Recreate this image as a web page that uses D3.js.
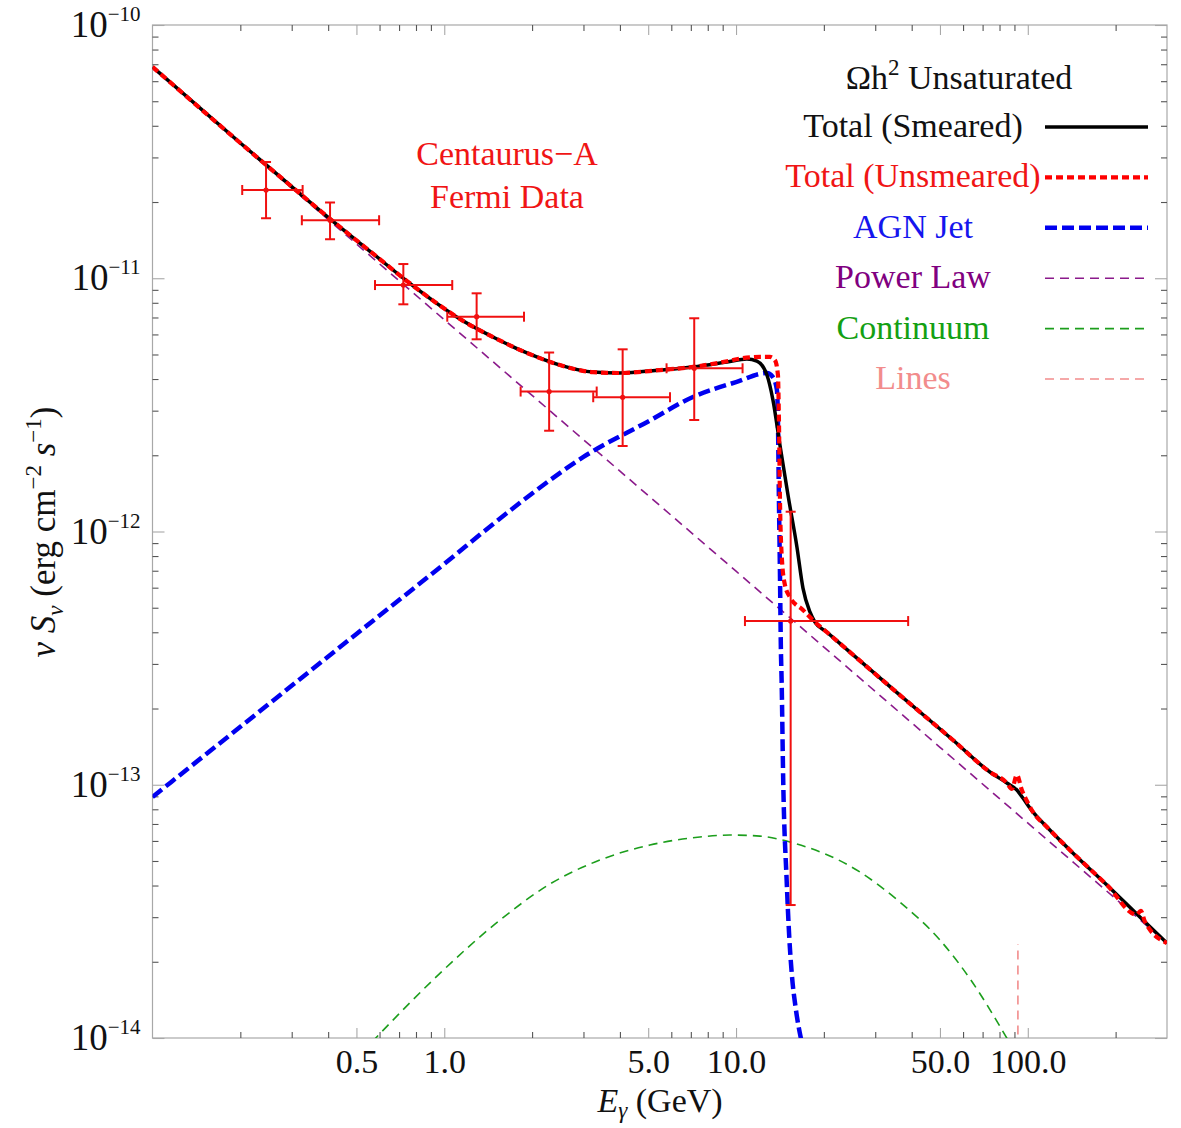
<!DOCTYPE html>
<html lang="en">
<head>
    <meta charset="UTF-8">
    <title>Centaurus-A Fermi Data</title>
    <script src="https://d3js.org/d3.v7.min.js"></script>
    <style>
        body { margin: 0; background: #fff; }
        svg text { font-family: "Liberation Serif", "Times New Roman", serif; }
    </style>
</head>
<body>
<svg id="chart" width="1181" height="1128"></svg>
<script>
    // ---- data (E in GeV, nu S_nu in erg cm^-2 s^-1) ----

    // Power law (thin purple dashed)
    const powerLawE = [0.1, 1, 10, 50, 300];
    const powerLawF = [6.76e-11, 6.86e-12, 6.97e-13, 1.406e-13, 2.37e-14];

    // Total (Smeared), black solid
    const smearedE = [0.1, 0.2, 0.3, 0.4, 0.57, 0.745, 0.967, 1.132, 1.468, 1.920, 2.492,
        3.233, 4.0, 5.486, 7.117, 9.308, 10.90, 11.79, 12.76, 13.38, 14.14, 15.07, 16.17, 16.96, 17.92,
        18.64, 20.5, 24.57, 36.45, 55.38, 74.16, 84.8, 91.76, 96.2, 104.1, 116.3, 142.7, 186.7, 242.2, 299.8];
    const smearedF = [6.83e-11, 3.42e-11, 2.30e-11, 1.74e-11, 1.25e-11, 9.75e-12, 7.80e-12,
        6.90e-12, 5.86e-12, 5.07e-12, 4.54e-12, 4.26e-12, 4.225e-12, 4.34e-12, 4.464e-12, 4.67e-12,
        4.80e-12, 4.71e-12, 4.15e-12, 3.31e-12, 2.196e-12, 1.393e-12, 8.69e-13, 5.98e-13, 4.81e-13,
        4.39e-13, 4.00e-13, 3.34e-13, 2.26e-13, 1.502e-13, 1.123e-13, 1.016e-13, 9.53e-14, 8.86e-14,
        7.81e-14, 6.81e-14, 5.38e-14, 4.02e-14, 3.004e-14, 2.372e-14];

    // Total (Unsmeared), red dashed
    const unsmearedE = [0.1, 0.2, 0.3, 0.4, 0.57, 0.745, 0.967, 1.132, 1.468, 1.920, 2.492,
        3.233, 4.0, 5.486, 7.117, 9.308, 10.56, 12.07, 13.07, 13.59, 13.92, 14.03, 14.14, 14.37, 14.71,
        15.30, 16.96, 18.64, 20.5, 24.57, 36.45, 55.38, 74.16, 84.8, 88.2, 91.76, 95.4, 99.3, 104.1,
        116.3, 142.7, 186.7, 236, 244, 252, 299.8];
    const unsmearedF = [6.83e-11, 3.42e-11, 2.30e-11, 1.74e-11, 1.25e-11, 9.75e-12, 7.80e-12,
        6.90e-12, 5.86e-12, 5.07e-12, 4.54e-12, 4.26e-12, 4.225e-12, 4.34e-12, 4.464e-12, 4.70e-12,
        4.84e-12, 4.89e-12, 4.89e-12, 4.75e-12, 4.15e-12, 2.756e-12, 1.368e-12, 7.72e-13, 6.15e-13,
        5.51e-13, 4.90e-13, 4.39e-13, 4.00e-13, 3.34e-13, 2.26e-13, 1.502e-13, 1.123e-13, 1.016e-13,
        9.62e-14, 1.093e-13, 9.53e-14, 8.63e-14, 7.81e-14, 6.81e-14, 5.38e-14, 4.02e-14, 3.07e-14,
        3.18e-14, 2.88e-14, 2.372e-14];

    // AGN Jet, blue dashed
    const jetE = [0.1, 0.2, 0.5, 1.0, 1.5, 2.0, 3.0, 5.0, 7.117, 10.0, 12.76, 13.38, 13.81, 13.92,
        14.03, 14.14, 14.25, 14.33, 14.51, 14.91, 15.22, 15.54, 16.05, 16.76];
    const jetF = [8.95e-14, 1.694e-13, 3.94e-13, 7.45e-13, 1.09e-12, 1.413e-12, 1.97e-12, 2.72e-12,
        3.397e-12, 3.89e-12, 4.225e-12, 4.07e-12, 3.62e-12, 2.756e-12, 1.332e-12, 7.05e-13, 3.40e-13,
        2.592e-13, 1.044e-13, 4.205e-14, 2.505e-14, 1.773e-14, 1.29e-14, 9.73e-15];

    // Continuum, green dashed
    const contE = [0.565, 0.9147, 1.552, 2.303, 3.418, 5.069, 7.52, 9.53, 12.07, 15.30, 26.6, 36.45, 49.96, 63.8, 85.5];
    const contF = [9.64e-15, 1.694e-14, 2.92e-14, 4.055e-14, 5.046e-14, 5.78e-14, 6.22e-14, 6.33e-14,
        6.27e-14, 5.94e-14, 4.52e-14, 3.44e-14, 2.44e-14, 1.694e-14, 9.82e-15];

    // Lines, pink dashed spike
    const linesE = [92.5, 92.5];
    const linesF = [9e-15, 2.35e-14];

    // Fermi data points with error bars
    const fermiE   = [0.245, 0.406, 0.724, 1.291, 2.288, 4.087, 7.19, 15.39];
    const fermiELo = [0.203, 0.325, 0.579, 1.024, 1.827, 3.24, 5.78, 10.73];
    const fermiEHi = [0.327, 0.598, 1.065, 1.876, 3.33, 5.94, 10.53, 38.9];
    const fermiF   = [2.23e-11, 1.694e-11, 9.40e-12, 7.05e-12, 3.57e-12, 3.39e-12, 4.41e-12, 4.43e-13];
    const fermiFLo = [1.726e-11, 1.426e-11, 7.89e-12, 5.74e-12, 2.50e-12, 2.176e-12, 2.756e-12, 3.35e-14];
    const fermiFHi = [2.88e-11, 1.99e-11, 1.138e-11, 8.72e-12, 5.09e-12, 5.24e-12, 6.95e-12, 1.197e-12];

    // Ticks
    const xLabelTicks = [0.5, 1, 5, 10, 50, 100];
    const xTickLabels = ["0.5", "1.0", "5.0", "10.0", "50.0", "100.0"];
    const xMinorTicks = [0.2, 0.3, 0.4, 0.6, 0.7, 0.8, 0.9, 2, 3, 4, 6, 7, 8, 9, 20, 30, 40, 60, 70, 80, 90, 200];
    const yDecades = [1e-14, 1e-13, 1e-12, 1e-11, 1e-10];
    const yExponents = ["\u221214", "\u221213", "\u221212", "\u221211", "\u221210"];

    // Legend
    const legendTitle = "Unsaturated";
    const legendLabels = ["Total (Smeared)", "Total (Unsmeared)", "AGN Jet", "Power Law", "Continuum", "Lines"];

    // ---- layout ----
    const margin = { top: 25, right: 14, bottom: 90, left: 152.5 };
    const width = 1181 - margin.left - margin.right;
    const height = 1128 - margin.top - margin.bottom;

    const svg = d3.select("#chart");
    const g = svg.append("g").attr("transform", `translate(${margin.left},${margin.top})`);

    const x = d3.scaleLog().domain([0.1, 300]).range([0, width]);
    const y = d3.scaleLog().domain([1e-14, 1e-10]).range([height, 0]);

    // minor y ticks 2..9 per decade
    const yMinorTicks = [];
    yDecades.slice(0, -1).forEach(d => {
        for (let m = 2; m <= 9; m++) yMinorTicks.push(m * d);
    });

    // clip to the frame
    svg.append("defs").append("clipPath").attr("id", "plotClip")
        .append("rect").attr("width", width).attr("height", height);

    // frame
    g.append("rect")
        .attr("width", width).attr("height", height)
        .attr("fill", "none").attr("stroke", "#a8a8a8").attr("stroke-width", 1.2);

    // tick marks on all four sides (pointing inward)
    function ticks(axisFn, scale, values, size, colour, transform) {
        const a = g.append("g")
            .attr("transform", transform)
            .call(axisFn(scale).tickValues(values).tickSize(-size).tickFormat(""));
        a.select(".domain").remove();
        a.selectAll(".tick line").attr("stroke", colour).attr("stroke-width", 1.1);
        return a;
    }
    ticks(d3.axisBottom, x, xMinorTicks, 6, "#555", `translate(0,${height})`);
    ticks(d3.axisBottom, x, xLabelTicks, 10, "#a8a8a8", `translate(0,${height})`);
    ticks(d3.axisTop, x, xMinorTicks, 6, "#555", "translate(0,0)");
    ticks(d3.axisTop, x, xLabelTicks, 10, "#a8a8a8", "translate(0,0)");
    ticks(d3.axisLeft, y, yMinorTicks, 6, "#555", "translate(0,0)");
    ticks(d3.axisLeft, y, yDecades, 12, "#a8a8a8", "translate(0,0)");
    ticks(d3.axisRight, y, yMinorTicks, 6, "#555", `translate(${width},0)`);
    ticks(d3.axisRight, y, yDecades, 12, "#a8a8a8", `translate(${width},0)`);

    // x tick labels
    const xLab = g.append("g")
        .attr("transform", `translate(0,${height})`)
        .call(d3.axisBottom(x).tickValues(xLabelTicks).tickSize(0).tickPadding(11)
            .tickFormat((d, i) => xTickLabels[i]));
    xLab.select(".domain").remove();
    xLab.selectAll("text")
        .attr("font-family", "Liberation Serif")
        .attr("font-size", 34)
        .attr("fill", "#111");

    // y tick labels: 10^n
    yDecades.forEach((d, i) => {
        const t = g.append("text")
            .attr("x", -12)
            .attr("y", y(d) + 12)
            .attr("text-anchor", "end")
            .attr("font-size", 37)
            .attr("fill", "#111");
        t.append("tspan").text("10");
        t.append("tspan").attr("dy", -16).attr("font-size", 21).text(yExponents[i]);
    });

    // axis titles
    const xt = svg.append("text")
        .attr("x", 660).attr("y", 1112)
        .attr("text-anchor", "middle")
        .attr("font-size", 34)
        .attr("fill", "#111");
    xt.append("tspan").attr("font-style", "italic").text("E");
    xt.append("tspan").attr("dy", 6).attr("font-size", 23).attr("font-style", "italic").text("\u03b3");
    xt.append("tspan").attr("dy", -6).text(" (GeV)");

    const yt = svg.append("text")
        .attr("transform", "translate(55,532) rotate(-90)")
        .attr("text-anchor", "middle")
        .attr("font-size", 35)
        .attr("fill", "#111");
    yt.append("tspan").attr("font-style", "italic").text("\u03bd ");
    yt.append("tspan").attr("font-style", "italic").text("S");
    yt.append("tspan").attr("dy", 8).attr("font-size", 23).attr("font-style", "italic").text("\u03bd");
    yt.append("tspan").attr("dy", -8).text(" (erg cm");
    yt.append("tspan").attr("dy", -14).attr("font-size", 23).text("\u22122");
    yt.append("tspan").attr("dy", 14).attr("font-style", "italic").text(" s");
    yt.append("tspan").attr("dy", -14).attr("font-size", 23).text("\u22121");
    yt.append("tspan").attr("dy", 14).text(")");

    // ---- curves ----
    const zip = (es, fs) => es.map((e, i) => [e, fs[i]]);
    const line = d3.line()
        .x(d => x(d[0]))
        .y(d => y(d[1]))
        .curve(d3.curveMonotoneX);
    const straight = d3.line().x(d => x(d[0])).y(d => y(d[1]));

    const plot = g.append("g").attr("clip-path", "url(#plotClip)");

    const series = [
        { data: zip(powerLawE, powerLawF), color: "#8b1a8b", width: 1.6, dash: "9,6", gen: straight },
        { data: zip(contE, contF), color: "#1c9e1c", width: 1.6, dash: "9,6", gen: line },
        { data: zip(linesE, linesF), color: "#f28c8c", width: 1.6, dash: "9,6", gen: straight },
        { data: zip(jetE, jetF), color: "#0000f0", width: 4.5, dash: "12,5", gen: line },
        { data: zip(smearedE, smearedF), color: "#000", width: 3.5, dash: null, gen: line },
        { data: zip(unsmearedE, unsmearedF), color: "#f00", width: 4.2, dash: "7,4", gen: line }
    ];

    series.forEach(s => {
        plot.append("path")
            .datum(s.data)
            .attr("d", s.gen)
            .attr("fill", "none")
            .attr("stroke", s.color)
            .attr("stroke-width", s.width)
            .attr("stroke-dasharray", s.dash)
            .attr("stroke-linejoin", "round");
    });

    // ---- Fermi data with error bars ----
    const pts = fermiE.map((e, i) => ({
        e, f: fermiF[i], elo: fermiELo[i], ehi: fermiEHi[i], flo: fermiFLo[i], fhi: fermiFHi[i]
    }));
    const cap = 5;
    const eb = plot.append("g").attr("stroke", "#f01010").attr("stroke-width", 2);
    pts.forEach(p => {
        const px = x(p.e), py = y(p.f);
        eb.append("line").attr("x1", x(p.elo)).attr("x2", x(p.ehi)).attr("y1", py).attr("y2", py);
        eb.append("line").attr("x1", x(p.elo)).attr("x2", x(p.elo)).attr("y1", py - cap).attr("y2", py + cap);
        eb.append("line").attr("x1", x(p.ehi)).attr("x2", x(p.ehi)).attr("y1", py - cap).attr("y2", py + cap);
        eb.append("line").attr("x1", px).attr("x2", px).attr("y1", y(p.flo)).attr("y2", y(p.fhi));
        eb.append("line").attr("x1", px - cap).attr("x2", px + cap).attr("y1", y(p.flo)).attr("y2", y(p.flo));
        eb.append("line").attr("x1", px - cap).attr("x2", px + cap).attr("y1", y(p.fhi)).attr("y2", y(p.fhi));
        eb.append("circle").attr("cx", px).attr("cy", py).attr("r", 2.6).attr("fill", "#f01010").attr("stroke", "none");
    });

    // ---- annotation ----
    svg.append("text").attr("x", 507).attr("y", 165).attr("text-anchor", "middle")
        .attr("font-size", 34).attr("fill", "#f01515").text("Centaurus\u2212A");
    svg.append("text").attr("x", 507).attr("y", 208).attr("text-anchor", "middle")
        .attr("font-size", 34).attr("fill", "#f01515").text("Fermi Data");

    // ---- legend ----
    const lt = svg.append("text").attr("x", 959).attr("y", 89).attr("text-anchor", "middle")
        .attr("font-size", 34).attr("fill", "#111");
    lt.append("tspan").text("\u03a9h");
    lt.append("tspan").attr("dy", -14).attr("font-size", 23).text("2");
    lt.append("tspan").attr("dy", 14).text(" " + legendTitle);

    const legendSeries = [series[4], series[5], series[3], series[0], series[1], series[2]];
    const legendText = ["#111", "#f01515", "#1515ee", "#800080", "#13a013", "#f28c8c"];
    legendLabels.forEach((lab, i) => {
        const cy = 127 + i * 50.4;
        svg.append("text").attr("x", 913).attr("y", cy + 10).attr("text-anchor", "middle")
            .attr("font-size", 34).attr("fill", legendText[i]).text(lab);
        const s = legendSeries[i];
        svg.append("line")
            .attr("x1", 1045).attr("x2", 1148).attr("y1", cy).attr("y2", cy)
            .attr("stroke", s.color)
            .attr("stroke-width", s.width)
            .attr("stroke-dasharray", s.dash);
    });
</script>
</body>
</html>
